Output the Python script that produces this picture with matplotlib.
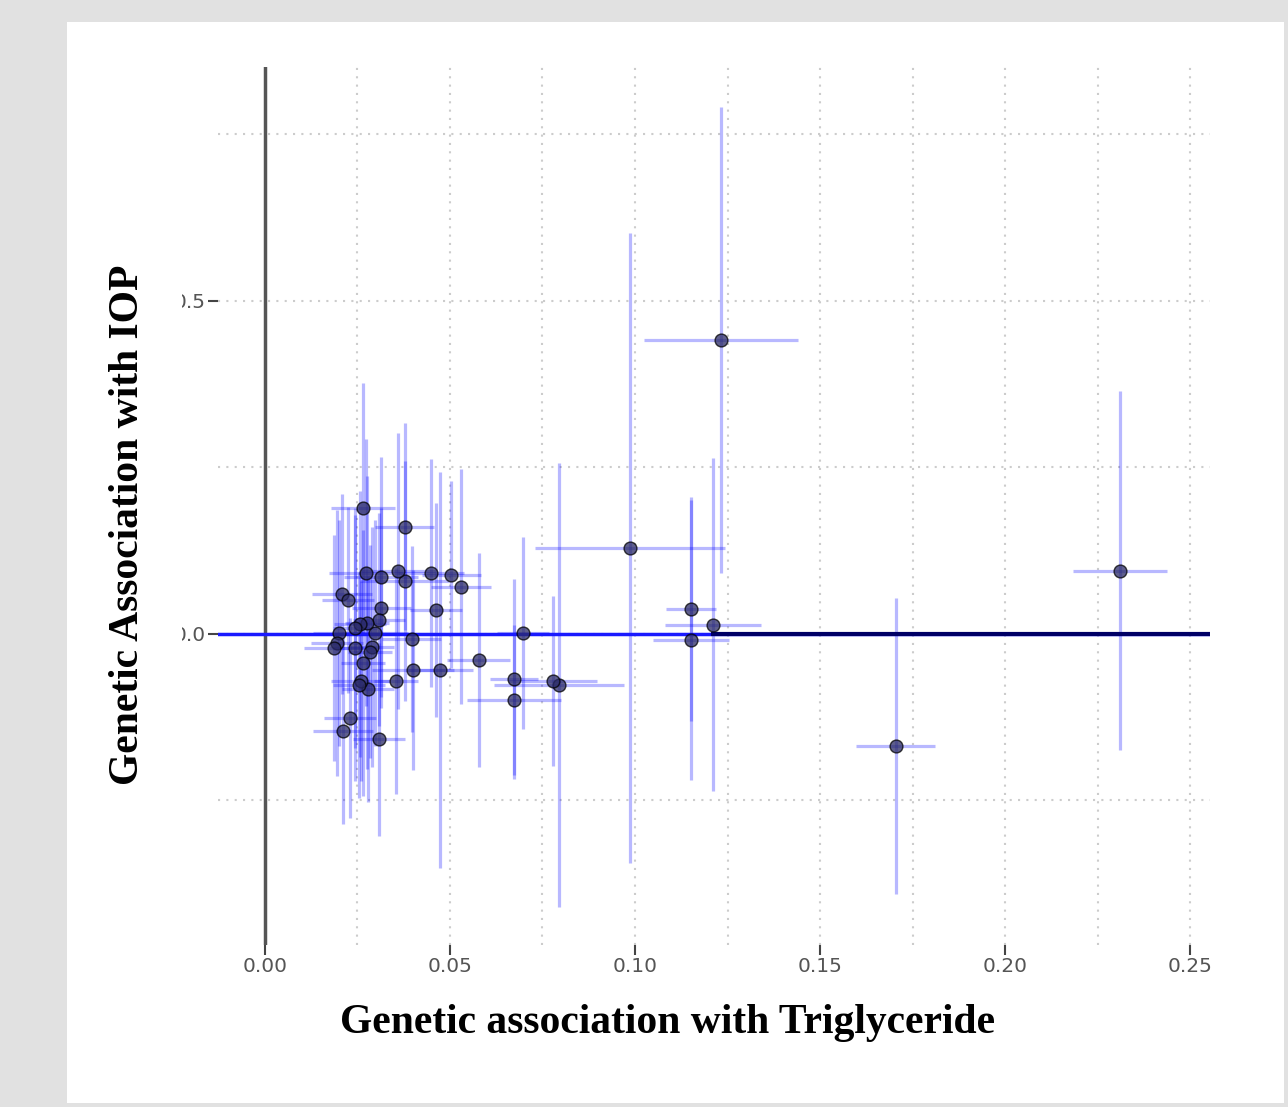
import matplotlib
matplotlib.use("Agg")
import matplotlib.pyplot as plt
from matplotlib.patches import Rectangle
import numpy as np

# SNP effects: association with triglyceride (x) and with IOP (y), with SEs
bx = [0.1232, 0.0986, 0.2311, 0.1705, 0.1151, 0.1151, 0.1211, 0.0697, 0.0795, 0.0778,
      0.0673, 0.0673, 0.0578, 0.0530, 0.0503, 0.0449, 0.0462, 0.0473, 0.0400, 0.0397,
      0.0378, 0.0378, 0.0359, 0.0354, 0.0314, 0.0314, 0.0308, 0.0308, 0.0297, 0.0289,
      0.0284, 0.0278, 0.0273, 0.0265, 0.0265, 0.0259, 0.0254, 0.0276, 0.0257, 0.0243,
      0.0243, 0.0230, 0.0211, 0.0200, 0.0195, 0.0186, 0.0208, 0.0224]
by = [0.441, 0.129, 0.095, -0.168, 0.0375, -0.009, 0.0135, 0.0015, -0.077, -0.071,
      -0.068, -0.099, -0.039, 0.071, 0.089, 0.092, 0.036, -0.054, -0.054, -0.008,
      0.161, 0.080, 0.095, -0.071, 0.086, 0.039, 0.021, -0.158, 0.0015, -0.020,
      -0.027, -0.083, 0.092, 0.189, -0.044, -0.071, -0.077, 0.017, 0.015, 0.009,
      -0.021, -0.126, -0.146, 0.0015, -0.014, -0.021, 0.060, 0.051]
se_x = [0.0208, 0.0256, 0.0126, 0.0107, 0.0068, 0.0103, 0.0130, 0.0070, 0.0176, 0.0120,
        0.0065, 0.0127, 0.0085, 0.0082, 0.0080, 0.0090, 0.0070, 0.0090, 0.0110, 0.0080,
        0.0080, 0.0120, 0.0100, 0.0060, 0.0100, 0.0080, 0.0070, 0.0070, 0.0090, 0.0060,
        0.0060, 0.0070, 0.0100, 0.0086, 0.0060, 0.0080, 0.0070, 0.0060, 0.0070, 0.0060,
        0.0060, 0.0070, 0.0080, 0.0070, 0.0070, 0.0080, 0.0080, 0.0070]
se_y = [0.350, 0.473, 0.269, 0.222, 0.168, 0.210, 0.250, 0.144, 0.333, 0.128,
        0.150, 0.113, 0.161, 0.176, 0.140, 0.171, 0.160, 0.297, 0.150, 0.140,
        0.155, 0.180, 0.207, 0.170, 0.180, 0.150, 0.160, 0.145, 0.170, 0.180,
        0.160, 0.170, 0.200, 0.188, 0.200, 0.150, 0.170, 0.220, 0.200, 0.180,
        0.200, 0.150, 0.140, 0.170, 0.200, 0.170, 0.150, 0.140]

x_ticks = [0.00, 0.05, 0.10, 0.15, 0.20, 0.25]
x_ticklabels = ["0.00", "0.05", "0.10", "0.15", "0.20", "0.25"]
y_ticks = [0.0, 0.5]
y_ticklabels = ["0.0", "0.5"]

W, H = 1288, 1107
fig = plt.figure(figsize=(W / 100, H / 100), dpi=100)
fig.patch.set_facecolor("#e1e1e1")
fig.patches.append(Rectangle((67 / W, 1 - 1103 / H), (1284 - 67) / W, (1103 - 22) / H,
                             transform=fig.transFigure, facecolor="white",
                             edgecolor="none", zorder=-1))

ax = fig.add_axes([218 / W, 1 - 945 / H, (1210 - 218) / W, (945 - 67) / H])
ax.set_facecolor("white")
ax.set_xlim(-0.0127, 0.2554)
ax.set_ylim(-0.467, 0.851)

# dotted grid
for gx in np.arange(0.025, 0.26, 0.025):
    ax.axvline(gx, color="#cccccc", lw=1.5, ls=(0, (1, 3)), zorder=0)
for gy in [-0.25, 0.0, 0.25, 0.5, 0.75]:
    ax.axhline(gy, color="#cccccc", lw=1.5, ls=(0, (1, 3)), zorder=0)

ax.axvline(0, color="#555555", lw=2.5, zorder=1)

ax.errorbar(bx, by, xerr=se_x, yerr=se_y, fmt="none", ecolor="#0000ff",
            alpha=0.28, elinewidth=2.3, capsize=0, zorder=2)
ax.axhline(0.0005, color="#1a1aff", lw=2.5, zorder=3)
ax.plot([0.1211, 0.2554], [0.0, 0.0], color="#000066", lw=3, zorder=3)
ax.scatter(bx, by, s=85, facecolor="#2a2a66", edgecolor="black", linewidth=1,
           alpha=0.75, zorder=4)

for s in ax.spines.values():
    s.set_visible(False)
ax.set_xticks(x_ticks)
ax.set_xticklabels(x_ticklabels)
ax.set_yticks(y_ticks)
ax.set_yticklabels(y_ticklabels)
ax.tick_params(axis="both", colors="#444444", labelcolor="#555555",
               labelsize=14.5, length=7, width=1.5)
ax.tick_params(axis="x", pad=2)
ax.tick_params(axis="y", pad=2)

fig.text(128 / W, 1 - 525 / H, "Genetic Association with IOP", rotation=90,
         ha="center", va="center", fontsize=30, fontweight="bold",
         family="Liberation Serif")
fig.text(668 / W, 1 - 1023 / H, "Genetic association with Triglyceride",
         ha="center", va="center", fontsize=30, fontweight="bold",
         family="Liberation Serif")

# left edge of y tick labels is cut off in the original
fig.patches.append(Rectangle((150 / W, 1 - 660 / H), (182 - 150) / W, (660 - 280) / H,
                             transform=fig.transFigure, facecolor="white",
                             edgecolor="none", zorder=5))

fig.savefig("out.png", dpi=100, facecolor=fig.get_facecolor())
